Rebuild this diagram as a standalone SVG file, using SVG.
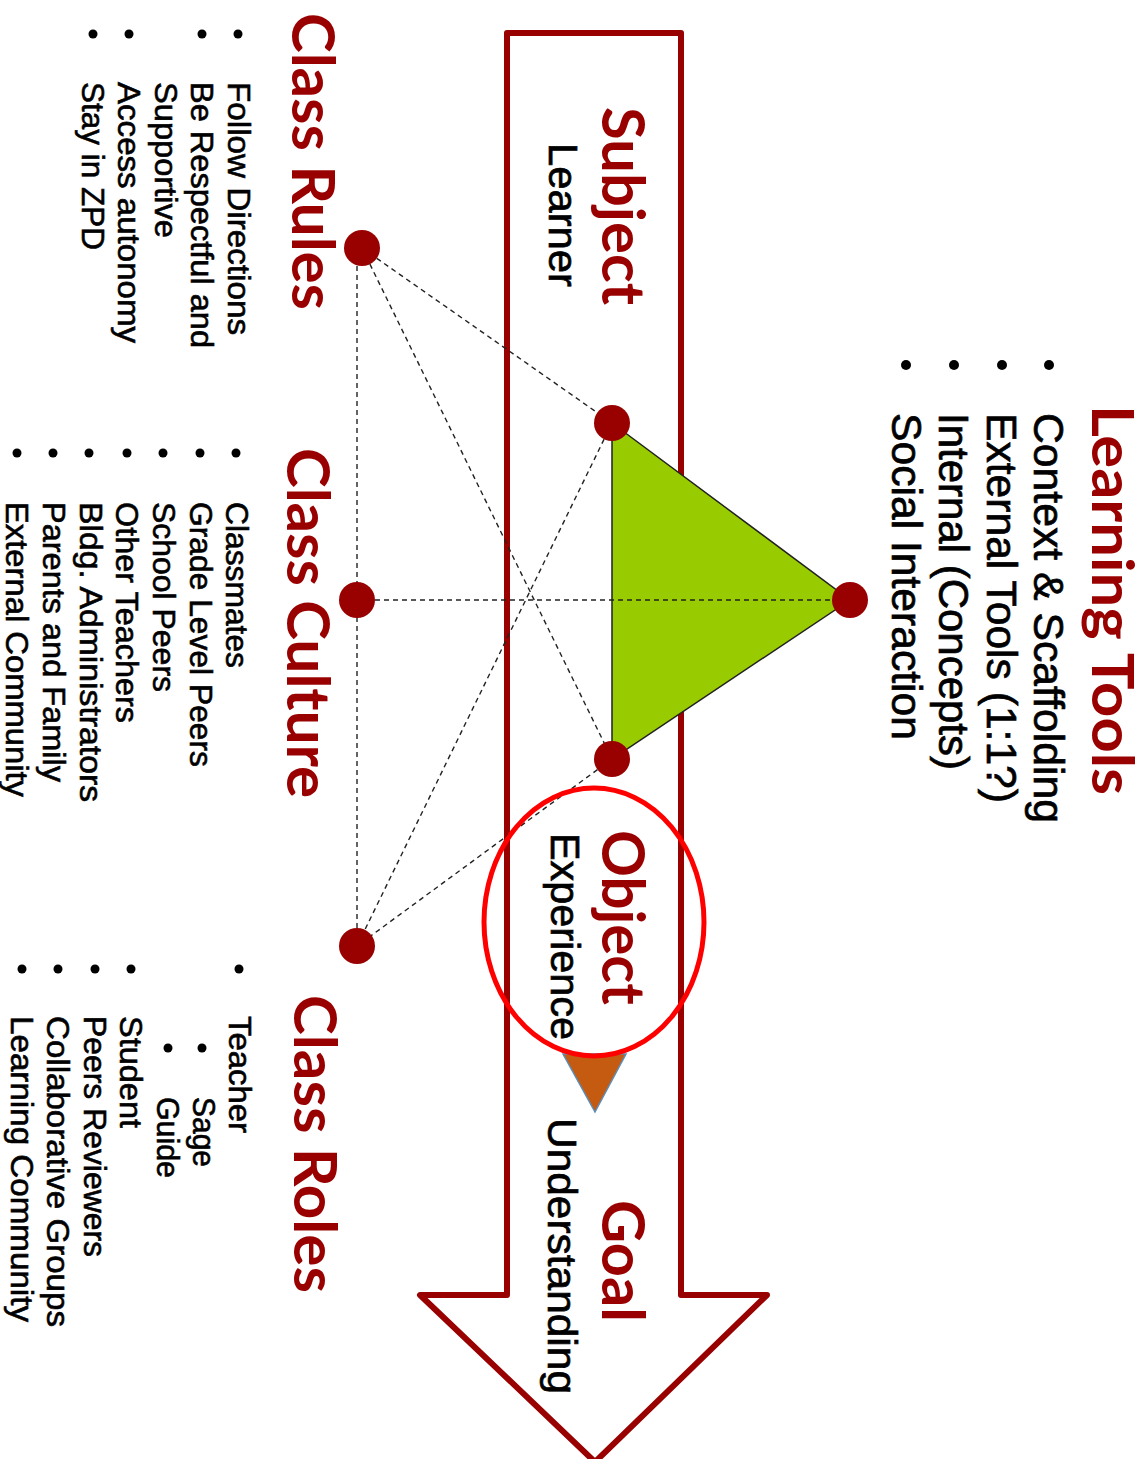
<svg xmlns="http://www.w3.org/2000/svg" width="1147" height="1459" viewBox="0 0 1147 1459">
<style>
.h{font-family:Lato,"Liberation Sans",sans-serif;font-weight:bold;font-size:60px;fill:#990000}
.s{font-family:"Liberation Sans",Arial,sans-serif;font-size:40px;fill:#000;stroke:#000;stroke-width:0.7}
.b{font-family:"Liberation Sans",Arial,sans-serif;font-size:31px;fill:#000;stroke:#000;stroke-width:0.6}
.t{font-family:"Liberation Sans",Arial,sans-serif;font-size:42px;fill:#000;stroke:#000;stroke-width:0.7}
.dot{fill:#990000}
.bul{fill:#000}
.dash{stroke:#222;stroke-width:1.4;stroke-dasharray:5 4;fill:none}
</style>
<rect width="1147" height="1459" fill="#fff"/>
<g id="arrow">
<path d="M507,33 L681,33 L681,1295 L767,1295 L595,1462 L420,1295 L507,1295 Z" fill="none" stroke="#990000" stroke-width="6" stroke-linejoin="round"/>
</g>
<g id="tools-triangle">
<polygon points="612,423 850,600 612,759" fill="#99CC00" stroke="#222" stroke-width="1.5"/>
</g>
<g id="connectors">
<line class="dash" x1="362" y1="248" x2="612" y2="423"/>
<line class="dash" x1="362" y1="248" x2="612" y2="759"/>
<line class="dash" x1="357" y1="248" x2="357" y2="946"/>
<line class="dash" x1="357" y1="600" x2="850" y2="600"/>
<line class="dash" x1="612" y1="423" x2="357" y2="946"/>
<line class="dash" x1="612" y1="759" x2="357" y2="946"/>
</g>
<g id="goal-marker">
<polygon points="563,1054 626,1054 595,1112" fill="#C55A11" stroke="#5B8DB8" stroke-width="1.5"/>
</g>
<g id="object-ellipse">
<ellipse cx="594" cy="922" rx="110" ry="134" fill="none" stroke="#FF0000" stroke-width="5"/>
</g>
<g id="node-rules"><circle class="dot" cx="362" cy="248" r="18"/></g>
<g id="node-subject"><circle class="dot" cx="612" cy="423" r="18"/></g>
<g id="node-tools"><circle class="dot" cx="850" cy="600" r="18"/></g>
<g id="node-culture"><circle class="dot" cx="357" cy="600" r="18"/></g>
<g id="node-object"><circle class="dot" cx="612" cy="759" r="18"/></g>
<g id="node-roles"><circle class="dot" cx="357" cy="946" r="18"/></g>

<g id="label-subject">
<text class="h" transform="translate(602,107) rotate(90)" textLength="198" lengthAdjust="spacingAndGlyphs">Subject</text>
<text class="s" transform="translate(549,143) rotate(90)" textLength="144" lengthAdjust="spacingAndGlyphs">Learner</text>
</g>
<g id="label-object">
<text class="h" transform="translate(602,830) rotate(90)" textLength="175" lengthAdjust="spacingAndGlyphs">Object</text>
<text class="s" transform="translate(551,833) rotate(90)" textLength="207" lengthAdjust="spacingAndGlyphs">Experience</text>
</g>
<g id="label-goal">
<text class="h" transform="translate(602,1200) rotate(90)" textLength="122" lengthAdjust="spacingAndGlyphs">Goal</text>
<text class="s" transform="translate(548,1118) rotate(90)" textLength="276" lengthAdjust="spacingAndGlyphs">Understanding</text>
</g>

<g id="label-tools">
<text class="h" transform="translate(1092,405) rotate(90)" style="font-size:57px" textLength="390" lengthAdjust="spacingAndGlyphs">Learning Tools</text>
<circle class="bul" cx="1049" cy="365" r="5"/>
<circle class="bul" cx="1002" cy="365" r="5"/>
<circle class="bul" cx="954" cy="365" r="5"/>
<circle class="bul" cx="906" cy="365" r="5"/>
<text class="t" transform="translate(1034,413) rotate(90)" textLength="410" lengthAdjust="spacingAndGlyphs">Context &amp; Scaffolding</text>
<text class="t" transform="translate(987,413) rotate(90)" textLength="390" lengthAdjust="spacingAndGlyphs">External Tools (1:1?)</text>
<text class="t" transform="translate(939,413) rotate(90)" textLength="357" lengthAdjust="spacingAndGlyphs">Internal (Concepts)</text>
<text class="t" transform="translate(892,413) rotate(90)" textLength="327" lengthAdjust="spacingAndGlyphs">Social Interaction</text>
</g>

<g id="label-rules">
<text class="h" transform="translate(292,13) rotate(90)" textLength="297" lengthAdjust="spacingAndGlyphs">Class Rules</text>
<circle class="bul" cx="238" cy="34" r="4.5"/>
<circle class="bul" cx="202" cy="34" r="4.5"/>
<circle class="bul" cx="129" cy="34" r="4.5"/>
<circle class="bul" cx="93" cy="34" r="4.5"/>
<text class="b" transform="translate(228,82) rotate(90)" textLength="253" lengthAdjust="spacingAndGlyphs">Follow Directions</text>
<text class="b" transform="translate(191,82) rotate(90)" textLength="266" lengthAdjust="spacingAndGlyphs">Be Respectful and</text>
<text class="b" transform="translate(155,82) rotate(90)" textLength="156" lengthAdjust="spacingAndGlyphs">Supportive</text>
<text class="b" transform="translate(118,82) rotate(90)" textLength="261" lengthAdjust="spacingAndGlyphs">Access autonomy</text>
<text class="b" transform="translate(82,82) rotate(90)" textLength="168" lengthAdjust="spacingAndGlyphs">Stay in ZPD</text>
</g>

<g id="label-culture">
<text class="h" transform="translate(287,448) rotate(90)" textLength="350" lengthAdjust="spacingAndGlyphs">Class Culture</text>
<circle class="bul" cx="236" cy="453" r="4.5"/>
<circle class="bul" cx="200" cy="453" r="4.5"/>
<circle class="bul" cx="163" cy="453" r="4.5"/>
<circle class="bul" cx="127" cy="453" r="4.5"/>
<circle class="bul" cx="89" cy="453" r="4.5"/>
<circle class="bul" cx="53" cy="453" r="4.5"/>
<circle class="bul" cx="17" cy="453" r="4.5"/>
<text class="b" transform="translate(226,502) rotate(90)" textLength="166" lengthAdjust="spacingAndGlyphs">Classmates</text>
<text class="b" transform="translate(190,502) rotate(90)" textLength="265" lengthAdjust="spacingAndGlyphs">Grade Level Peers</text>
<text class="b" transform="translate(153,502) rotate(90)" textLength="190" lengthAdjust="spacingAndGlyphs">School Peers</text>
<text class="b" transform="translate(116,502) rotate(90)" textLength="221" lengthAdjust="spacingAndGlyphs">Other Teachers</text>
<text class="b" transform="translate(80,502) rotate(90)" textLength="300" lengthAdjust="spacingAndGlyphs">Bldg. Administrators</text>
<text class="b" transform="translate(43,502) rotate(90)" textLength="280" lengthAdjust="spacingAndGlyphs">Parents and Family</text>
<text class="b" transform="translate(6,502) rotate(90)" textLength="295" lengthAdjust="spacingAndGlyphs">External Community</text>
</g>

<g id="label-roles">
<text class="h" transform="translate(294,995) rotate(90)" textLength="298" lengthAdjust="spacingAndGlyphs">Class Roles</text>
<circle class="bul" cx="239" cy="969" r="4.5"/>
<circle class="bul" cx="202" cy="1048" r="4.5"/>
<circle class="bul" cx="168" cy="1048" r="4.5"/>
<circle class="bul" cx="131" cy="969" r="4.5"/>
<circle class="bul" cx="95" cy="969" r="4.5"/>
<circle class="bul" cx="58" cy="969" r="4.5"/>
<circle class="bul" cx="22" cy="969" r="4.5"/>
<text class="b" transform="translate(229,1016) rotate(90)" textLength="117" lengthAdjust="spacingAndGlyphs">Teacher</text>
<text class="b" transform="translate(193,1097) rotate(90)" textLength="70" lengthAdjust="spacingAndGlyphs">Sage</text>
<text class="b" transform="translate(157,1097) rotate(90)" textLength="81" lengthAdjust="spacingAndGlyphs">Guide</text>
<text class="b" transform="translate(120,1016) rotate(90)" textLength="112" lengthAdjust="spacingAndGlyphs">Student</text>
<text class="b" transform="translate(84,1016) rotate(90)" textLength="241" lengthAdjust="spacingAndGlyphs">Peers Reviewers</text>
<text class="b" transform="translate(47,1016) rotate(90)" textLength="311" lengthAdjust="spacingAndGlyphs">Collaborative Groups</text>
<text class="b" transform="translate(11,1016) rotate(90)" textLength="306" lengthAdjust="spacingAndGlyphs">Learning Community</text>
</g>
</svg>
